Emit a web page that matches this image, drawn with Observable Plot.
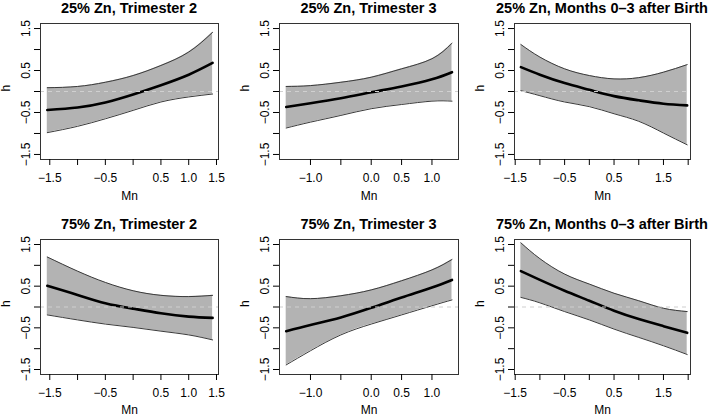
<!DOCTYPE html>
<html>
<head>
<meta charset="utf-8">
<script src="https://cdn.jsdelivr.net/npm/d3@7"></script>
<script src="https://cdn.jsdelivr.net/npm/@observablehq/plot@0.6"></script>
<style>
  html, body { margin: 0; padding: 0; background: white; }
  body { width: 711px; height: 418px; position: relative; overflow: hidden; font-family: "Liberation Sans", Arial, Helvetica, sans-serif; }
  .title { position: absolute; height: 16px; line-height: 16px; font-size: 14.5px; font-weight: bold; text-align: center; white-space: nowrap; color: black; }
  .panel { position: absolute; }
</style>
</head>
<body>
<script>
// ---- Data ----
const titles = [
  "25% Zn, Trimester 2", "25% Zn, Trimester 3", "25% Zn, Months 0–3 after Birth",
  "75% Zn, Trimester 2", "75% Zn, Trimester 3", "75% Zn, Months 0–3 after Birth"
];

// Mn grid per exposure window
const mnT2  = [-1.545, -1.0, -0.5, 0, 0.5, 1.0, 1.43];
const mnT3  = [-1.40, -1.0, -0.5, 0, 0.5, 1.0, 1.33];
const mnM03 = [-1.385, -1.0, -0.5, 0, 0.5, 1.0, 1.5, 1.98];

// 25% Zn
const zn25T2Fit = [-0.44, -0.38, -0.26, -0.07, 0.15, 0.40, 0.68];
const zn25T2Hi  = [0.09, 0.12, 0.22, 0.38, 0.62, 0.94, 1.41];
const zn25T2Lo  = [-0.98, -0.83, -0.65, -0.45, -0.25, -0.13, -0.06];

const zn25T3Fit = [-0.37, -0.28, -0.16, -0.02, 0.12, 0.29, 0.46];
const zn25T3Hi  = [0.12, 0.14, 0.22, 0.34, 0.54, 0.78, 1.15];
const zn25T3Lo  = [-0.87, -0.73, -0.57, -0.41, -0.31, -0.23, -0.23];

const zn25M03Fit = [0.58, 0.40, 0.20, 0.04, -0.11, -0.21, -0.29, -0.33];
const zn25M03Hi  = [1.12, 0.82, 0.54, 0.38, 0.30, 0.33, 0.46, 0.64];
const zn25M03Lo  = [0.02, -0.10, -0.25, -0.36, -0.53, -0.71, -0.99, -1.27];

// 75% Zn
const zn75T2Fit = [0.51, 0.29, 0.09, -0.04, -0.15, -0.23, -0.26];
const zn75T2Hi  = [1.20, 0.86, 0.59, 0.39, 0.28, 0.25, 0.28];
const zn75T2Lo  = [-0.19, -0.31, -0.41, -0.49, -0.58, -0.67, -0.79];

const zn75T3Fit = [-0.58, -0.43, -0.25, -0.02, 0.23, 0.47, 0.65];
const zn75T3Hi  = [0.25, 0.20, 0.27, 0.41, 0.63, 0.89, 1.14];
const zn75T3Lo  = [-1.39, -1.05, -0.67, -0.41, -0.19, 0.03, 0.17];

const zn75M03Fit = [0.86, 0.65, 0.39, 0.15, -0.09, -0.29, -0.46, -0.62];
const zn75M03Hi  = [1.54, 1.16, 0.79, 0.55, 0.33, 0.15, -0.03, -0.11];
const zn75M03Lo  = [0.23, 0.10, -0.11, -0.31, -0.53, -0.73, -0.93, -1.14];

// Tick values and which ones carry a label
const yTicks  = [-1.5, -1.0, -0.5, 0, 0.5, 1.0, 1.5];
const yLabels = [-1.5, -0.5, 0.5, 1.5];
const xTicksT2  = [-1.5, -1.0, -0.5, 0, 0.5, 1.0, 1.5];
const xLabelsT2 = [-1.5, -0.5, 0.5, 1.0, 1.5];
const xTicksT3  = [-1.0, -0.5, 0, 0.5, 1.0];
const xLabelsT3 = [-1.0, 0.0, 0.5, 1.0];
const xTicksM03  = [-1.5, -1.0, -0.5, 0, 0.5, 1.0, 1.5, 2.0];
const xLabelsM03 = [-1.5, -0.5, 0.5, 1.5];

// ---- Layout ----
const cols = [
  {left: 0,   width: 237, ml: 40, mr: 19, xDomain: [-1.667, 1.536], mn: mnT2,  ticks: xTicksT2,  labels: xLabelsT2},
  {left: 239, width: 235, ml: 40, mr: 16, xDomain: [-1.51, 1.437],  mn: mnT3,  ticks: xTicksT3,  labels: xLabelsT3},
  {left: 474, width: 237, ml: 40, mr: 21, xDomain: [-1.514, 2.047], mn: mnM03, ticks: xTicksM03, labels: xLabelsM03}
];
const rows = [
  {titleTop: 0,   svgTop: 16,  mt: 7, inner: 136, mb: 48, mnDy: 37},
  {titleTop: 216, svgTop: 232, mt: 7, inner: 135, mb: 44, mnDy: 36}
];
const series = [
  [zn25T2Fit, zn25T2Lo, zn25T2Hi], [zn25T3Fit, zn25T3Lo, zn25T3Hi], [zn25M03Fit, zn25M03Lo, zn25M03Hi],
  [zn75T2Fit, zn75T2Lo, zn75T2Hi], [zn75T3Fit, zn75T3Lo, zn75T3Hi], [zn75M03Fit, zn75M03Lo, zn75M03Hi]
];

const fmt = d => d.toFixed(1).replace("-", "\u2212");
const font = '"Liberation Sans", Arial, Helvetica, sans-serif';

for (let i = 0; i < 6; i++) {
  const r = rows[Math.floor(i / 3)], c = cols[i % 3];
  const [fit, lo, hi] = series[i];
  const data = c.mn.map((x, j) => ({x, fit: fit[j], lo: lo[j], hi: hi[j]}));

  const center = c.left + c.ml + (c.width - c.ml - c.mr) / 2;
  const t = document.createElement("div");
  t.className = "title";
  t.textContent = titles[i];
  t.style.top = r.titleTop + "px";
  t.style.left = (center - 150) + "px";
  t.style.width = "300px";
  document.body.appendChild(t);

  const chart = Plot.plot({
    width: c.width,
    height: r.mt + r.inner + r.mb,
    marginLeft: c.ml, marginRight: c.mr, marginTop: r.mt, marginBottom: r.mb,
    style: {fontFamily: font, fontSize: "12px", color: "black", background: "transparent", overflow: "visible"},
    x: {domain: c.xDomain},
    y: {domain: [-1.62, 1.62]},
    marks: [
      Plot.areaY(data, {x: "x", y1: "lo", y2: "hi", fill: "#b3b3b3", curve: "natural"}),
      Plot.line(data, {x: "x", y: "hi", stroke: "#3a3a3a", strokeWidth: 1, curve: "natural"}),
      Plot.line(data, {x: "x", y: "lo", stroke: "#3a3a3a", strokeWidth: 1, curve: "natural"}),
      Plot.line(data, {x: "x", y: "fit", stroke: "black", strokeWidth: 2.6, curve: "natural"}),
      Plot.ruleY([0], {stroke: "#d0d0d0", strokeWidth: 1.2, strokeDasharray: "4,4"}),
      Plot.frame({stroke: "#333"}),
      Plot.axisX({ticks: c.ticks, tickSize: 6, tickPadding: 8, label: null,
                  tickFormat: d => c.labels.includes(d) ? fmt(d) : ""}),
      Plot.axisY({ticks: yTicks, tickSize: 6, tickPadding: 5, tickRotate: -90, label: null,
                  tickFormat: d => yLabels.includes(d) ? fmt(d) : ""}),
      Plot.text(["Mn"], {text: d => d, frameAnchor: "bottom", lineAnchor: "middle", dy: r.mnDy, fontSize: 12}),
      Plot.text(["h"], {text: d => d, frameAnchor: "left", lineAnchor: "middle", dx: -34, rotate: -90, fontSize: 12})
    ]
  });
  chart.classList.add("panel");
  chart.style.position = "absolute";
  chart.style.left = c.left + "px";
  chart.style.top = r.svgTop + "px";
  chart.style.maxWidth = "none";
  document.body.appendChild(chart);
}
</script>
</body>
</html>
